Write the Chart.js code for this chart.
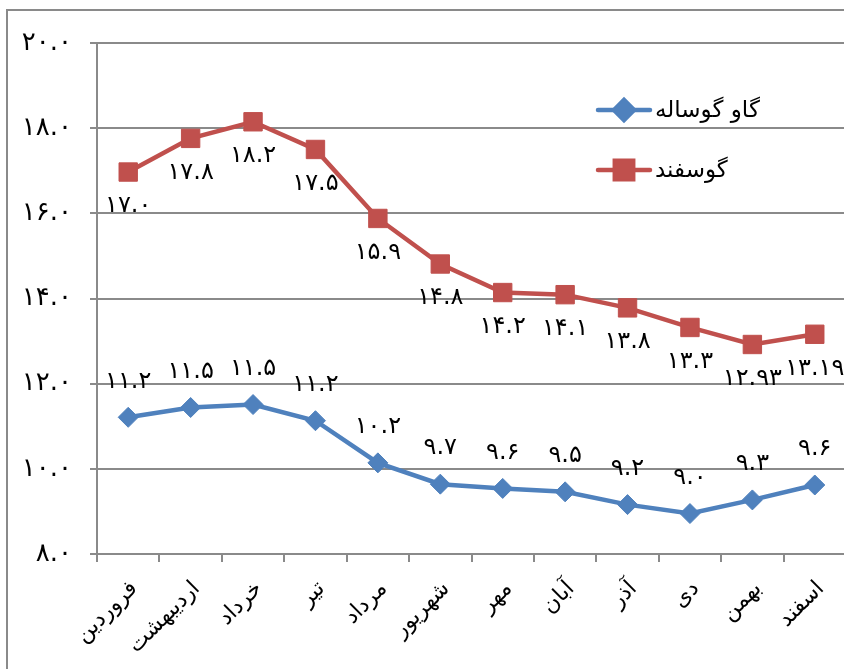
<!DOCTYPE html>
<html><head><meta charset="utf-8">
<script src="https://cdn.jsdelivr.net/npm/chart.js@4/dist/chart.umd.min.js"></script>
<style>html,body{margin:0;padding:0;background:#fff;overflow:hidden;}#wrap{width:844px;height:669px;overflow:hidden;}</style>
</head><body><div id="wrap"><canvas id="c" width="860" height="669"></canvas></div>
<script>
const months = ['فروردین','اردیبهشت','خرداد','تیر','مرداد','شهریور','مهر','آبان','آذر','دی','بهمن','اسفند'];
const cattleName = 'گاو گوساله';
const sheepName = 'گوسفند';
const cattleValues = [11.21, 11.44, 11.51, 11.13, 10.14, 9.64, 9.54, 9.46, 9.16, 8.95, 9.27, 9.62];
const sheepValues = [16.97, 17.76, 18.15, 17.5, 15.88, 14.81, 14.14, 14.09, 13.78, 13.32, 12.92, 13.16];
const cattleLabels = ['11.2','11.5','11.5','11.2','10.2','9.7','9.6','9.5','9.2','9.0','9.3','9.6'];
const sheepLabels = ['17.0','17.8','18.2','17.5','15.9','14.8','14.2','14.1','13.8','13.3','12.93','13.19'];
const yMin = 8, yMax = 20, yStep = 2;

const BLUE = '#4F81BD', RED = '#C0504D', GRID = '#8a8a8a';
const FONT = 'DejaVu Sans';
function fa(s){ return String(s).replace(/[0-9]/g, d => '۰۱۲۳۴۵۶۷۸۹'[+d]); }

const labelPlugin = {
  id: 'labels',
  beforeDraw(chart){
    const ctx = chart.ctx;
    ctx.save();
    ctx.strokeStyle = GRID; ctx.lineWidth = 2;
    ctx.strokeRect(7, 10, 900, 700);
    ctx.restore();
  },
  afterDraw(chart){
    const ctx = chart.ctx;
    const ys = chart.scales.y;
    ctx.save();
    ctx.font = '26px "' + FONT + '"';
    ctx.letterSpacing = '3px';
    ctx.fillStyle = '#000';
    ctx.textAlign = 'right';
    ctx.textBaseline = 'middle';
    ys.ticks.forEach(t => {
      ctx.fillText(fa(Number(t.value).toFixed(1)), ys.right - 25, ys.getPixelForValue(t.value));
    });
    ctx.restore();
  },
  afterDatasetsDraw(chart){
    const ctx = chart.ctx;
    ctx.save();
    ctx.font = '24px "' + FONT + '"';
    ctx.letterSpacing = '2px';
    ctx.fillStyle = '#000';
    ctx.textAlign = 'center';
    ctx.textBaseline = 'middle';
    const sets = [[0, cattleLabels, -36], [1, sheepLabels, 34]];
    sets.forEach(([i, labs, off]) => {
      chart.getDatasetMeta(i).data.forEach((pt, j) => {
        ctx.fillText(fa(labs[j]), pt.x, pt.y + off);
      });
    });
    ctx.letterSpacing = '0px';
    const items = [[cattleName, BLUE, 'rectRot', 10, 110], [sheepName, RED, 'rect', 13, 170]];
    items.forEach(([name, col, st, r, y]) => {
      ctx.strokeStyle = col; ctx.lineWidth = 4.5; ctx.lineCap = 'round';
      ctx.beginPath(); ctx.moveTo(598, y); ctx.lineTo(650, y); ctx.stroke();
      ctx.fillStyle = col;
      Chart.helpers.drawPoint(ctx, {pointStyle: st, radius: r, borderWidth: 1, rotation: 0}, 624, y);
      ctx.fill();
      ctx.fillStyle = '#000';
      ctx.font = '23px "' + FONT + '"';
      ctx.textAlign = 'left';
      ctx.fillText(name, 655, y + 1);
    });
    ctx.restore();
  }
};

new Chart(document.getElementById('c'), {
  type: 'line',
  data: {
    labels: months,
    datasets: [
      {label: cattleName, data: cattleValues, borderColor: BLUE, backgroundColor: BLUE, borderWidth: 4.5,
       pointStyle: 'rectRot', pointRadius: 10, pointHoverRadius: 10, pointBorderWidth: 1, pointBorderColor: BLUE, tension: 0},
      {label: sheepName, data: sheepValues, borderColor: RED, backgroundColor: RED, borderWidth: 4.5,
       pointStyle: 'rect', pointRadius: 13, pointHoverRadius: 13, pointBorderWidth: 1, pointBorderColor: RED, tension: 0}
    ]
  },
  options: {
    responsive: false, animation: false, devicePixelRatio: 1,
    layout: {padding: {top: 43, left: 0, right: 0, bottom: 0}},
    plugins: {legend: {display: false}, tooltip: {enabled: false}, title: {display: false}},
    scales: {
      x: {
        offset: true,
        grid: {offset: true, drawOnChartArea: false, drawTicks: true, tickLength: 8, color: GRID, lineWidth: 2},
        border: {color: GRID, width: 2},
        ticks: {minRotation: 45, maxRotation: 45, autoSkip: false, color: '#000', padding: 14, labelOffset: 6, font: {family: FONT, size: 22}},
        afterFit(s){ s.height = 115; s.paddingLeft = 0; s.paddingRight = 0; }
      },
      y: {
        min: yMin, max: yMax,
        grid: {color: GRID, lineWidth: 2, tickLength: 7},
        border: {color: GRID, width: 2},
        ticks: {stepSize: yStep, display: false},
        afterFit(s){ s.width = 97; }
      }
    }
  },
  plugins: [labelPlugin]
});
</script></body></html>
